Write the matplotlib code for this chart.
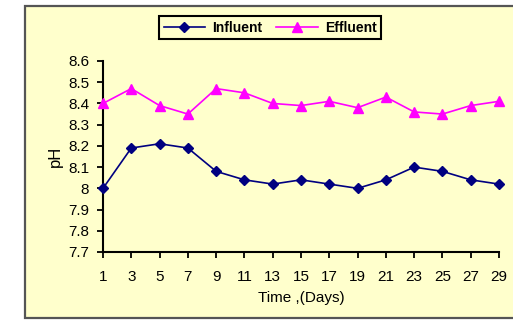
import matplotlib
matplotlib.use("Agg")
import matplotlib.pyplot as plt
from matplotlib.patches import Rectangle

plt.rcParams['font.family'] = ['Liberation Sans', 'DejaVu Sans']

# pH readings over the sampling period
days = [1, 3, 5, 7, 9, 11, 13, 15, 17, 19, 21, 23, 25, 27, 29]
influent = [8.00, 8.19, 8.21, 8.19, 8.08, 8.04, 8.02, 8.04, 8.02, 8.00, 8.04, 8.10, 8.08, 8.04, 8.02]
effluent = [8.40, 8.47, 8.39, 8.35, 8.47, 8.45, 8.40, 8.39, 8.41, 8.38, 8.43, 8.36, 8.35, 8.39, 8.41]
y_ticks = [7.7, 7.8, 7.9, 8.0, 8.1, 8.2, 8.3, 8.4, 8.5, 8.6]
y_labels = ['7.7', '7.8', '7.9', '8', '8.1', '8.2', '8.3', '8.4', '8.5', '8.6']

bg = '#FFFFCC'
fig = plt.figure(figsize=(5.13, 3.2), dpi=100)
fig.patch.set_facecolor('white')

# chart frame, drawn underneath the axes
frame = Rectangle((25 / 513, 2 / 320), 1.2, 312 / 320, transform=fig.transFigure,
                  facecolor=bg, edgecolor='#555555', linewidth=1.6, zorder=-10)
fig.patches.append(frame)

ax = fig.add_axes([103 / 513, 68 / 320, 396 / 513, 191 / 320])
ax.set_facecolor(bg)
ax.patch.set_alpha(0)

ax.plot(days, influent, color='#000080', marker='D', markersize=5, linewidth=1.2,
        label='Influent', clip_on=False, zorder=3)
ax.plot(days, effluent, color='#FF00FF', marker='^', markersize=7, linewidth=1.2,
        label='Effluent', clip_on=False, zorder=3)

ax.set_xlim(1, 29)
ax.set_ylim(7.7, 8.6)
ax.set_xticks(days)
ax.set_xticklabels([str(d) for d in days])
ax.set_yticks(y_ticks)
ax.set_yticklabels(y_labels)

for side in ['top', 'right']:
    ax.spines[side].set_visible(False)
for side in ['left', 'bottom']:
    ax.spines[side].set_linewidth(1.5)
    ax.spines[side].set_color('black')

ax.tick_params(axis='both', direction='out', length=4, width=1.3, labelsize=11)
ax.tick_params(axis='y', pad=6)
ax.tick_params(axis='x', pad=9)

ax.set_xlabel('Time ,(Days)', fontsize=11, labelpad=5)
ax.set_ylabel('pH', fontsize=12, labelpad=4)

leg = fig.legend(loc='center', bbox_to_anchor=(270 / 513, 1 - 27.5 / 320), ncol=2,
                 frameon=True, fancybox=False, edgecolor='black', facecolor=bg,
                 framealpha=1, handlelength=3.0, columnspacing=1.0, handletextpad=0.5,
                 borderpad=0.35, prop={'size': 10, 'weight': 'bold'})
leg.get_frame().set_linewidth(1.5)

fig.savefig('out.png', dpi=100, facecolor=fig.get_facecolor())
